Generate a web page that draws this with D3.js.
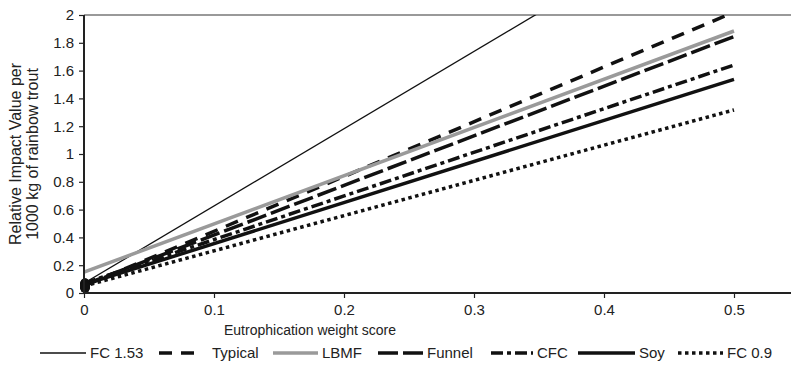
<!DOCTYPE html>
<html>
<meta charset="utf-8">
<head>
<style>
body { margin: 0; background: #fff; }
text { font-family: "Liberation Sans", Arial, sans-serif; fill: #222; }
</style>
<script src="https://d3js.org/d3.v7.min.js"></script>
</head>
<body>
<svg width="791" height="371"></svg>
<script>
// data: value at x=0 and x=0.5 for each series
var xPoints = [0, 0.5];
var fc153   = [0.07, 2.85];
var typical = [0.05, 2.02];
var lbmf    = [0.15, 1.885];
var funnel  = [0.06, 1.845];
var cfc     = [0.07, 1.64];
var soy     = [0.06, 1.537];
var fc09    = [0.05, 1.317];

var xTicks = [0, 0.1, 0.2, 0.3, 0.4, 0.5];
var yTicks = [0, 0.2, 0.4, 0.6, 0.8, 1, 1.2, 1.4, 1.6, 1.8, 2];

var series = [
  {name: "FC 1.53", values: fc153,   color: "#111", width: 1.3, dash: null},
  {name: "Typical", values: typical, color: "#111", width: 3.5, dash: "13,9"},
  {name: "LBMF",    values: lbmf,    color: "#9a9a9a", width: 3.5, dash: null},
  {name: "Funnel",  values: funnel,  color: "#111", width: 3.5, dash: "20,5"},
  {name: "CFC",     values: cfc,     color: "#111", width: 3.5, dash: "12,4,4,4"},
  {name: "Soy",     values: soy,     color: "#111", width: 3.5, dash: null},
  {name: "FC 0.9",  values: fc09,    color: "#111", width: 3.5, dash: "3.5,3.5"}
];

var svg = d3.select("svg");
var pLeft = 84, pRight = 791, pTop = 15, pBottom = 293;

var x = d3.scaleLinear().domain([0, 0.5]).range([pLeft, 734]);
var y = d3.scaleLinear().domain([0, 2]).range([pBottom, pTop]);

svg.append("clipPath").attr("id", "plot")
  .append("rect")
    .attr("x", pLeft).attr("y", pTop)
    .attr("width", pRight - pLeft).attr("height", pBottom - pTop);

// top border
svg.append("line")
    .attr("x1", pLeft).attr("x2", pRight)
    .attr("y1", pTop).attr("y2", pTop)
    .attr("stroke", "#777").attr("stroke-width", 1.5);

var line = d3.line()
    .x(function(d) { return x(d[0]); })
    .y(function(d) { return y(d[1]); });

var g = svg.append("g").attr("clip-path", "url(#plot)");

series.forEach(function(s) {
  g.append("path")
      .datum(xPoints.map(function(v, i) { return [v, s.values[i]]; }))
      .attr("d", line)
      .attr("fill", "none")
      .attr("stroke", s.color)
      .attr("stroke-width", s.width)
      .attr("stroke-dasharray", s.dash);
});

// start markers (the dark blob at the origin)
series.filter(function(s) { return s.color === "#111"; }).forEach(function(s) {
  svg.append("ellipse")
      .attr("cx", x(xPoints[0]) + 1)
      .attr("cy", y(s.values[0]) + 1)
      .attr("rx", 5).attr("ry", 6)
      .attr("fill", "#111");
});

// axes
var xAxis = svg.append("g")
    .attr("transform", "translate(0," + pBottom + ")")
    .call(d3.axisBottom(x).tickValues(xTicks).tickSize(5).tickPadding(6)
      .tickFormat(function(d) { return d === 0 ? "0" : d3.format(".1f")(d); }));
xAxis.select(".domain").attr("d", "M" + pLeft + ",0H" + pRight)
    .attr("stroke", "#222").attr("stroke-width", 2);

var yAxis = svg.append("g")
    .attr("transform", "translate(" + pLeft + ",0)")
    .call(d3.axisLeft(y).tickValues(yTicks).tickSize(5).tickPadding(5)
      .tickFormat(function(d) { return d === 0 || d === 1 || d === 2 ? d : d3.format(".1f")(d); }));
yAxis.select(".domain").attr("d", "M0," + pTop + "V" + pBottom)
    .attr("stroke", "#222").attr("stroke-width", 2);

svg.selectAll(".tick line").attr("stroke", "#222").attr("stroke-width", 1.2);
svg.selectAll(".tick text")
    .style("font-family", "'Liberation Sans', Arial, sans-serif")
    .style("font-size", "15px").attr("fill", "#222");

// axis titles
svg.append("text")
    .attr("x", 310).attr("y", 335)
    .attr("text-anchor", "middle")
    .style("font-size", "14px")
    .text("Eutrophication weight score");

var yt = svg.append("text")
    .attr("transform", "translate(21," + ((pTop + pBottom) / 2) + ") rotate(-90)")
    .attr("text-anchor", "middle")
    .style("font-size", "16px");
yt.append("tspan").attr("x", 0).attr("dy", 0).text("Relative Impact Value per");
yt.append("tspan").attr("x", 0).attr("dy", 17).text("1000 kg of rainbow trout");

// legend
var legendX = [40, 159, 273, 378, 491, 578, 678];
var legendW = [46, 36, 45, 45, 42, 57, 45];
var ly = 353;
series.forEach(function(s, i) {
  svg.append("line")
      .attr("x1", legendX[i]).attr("x2", legendX[i] + legendW[i])
      .attr("y1", ly).attr("y2", ly)
      .attr("stroke", s.color)
      .attr("stroke-width", s.width)
      .attr("stroke-dasharray", s.dash);
  svg.append("text")
      .attr("x", legendX[i] + legendW[i] + (s.name === "Typical" ? 17 : 4))
      .attr("y", ly + 5)
      .style("font-size", "15px")
      .text(s.name);
});
</script>
</body>
</html>
